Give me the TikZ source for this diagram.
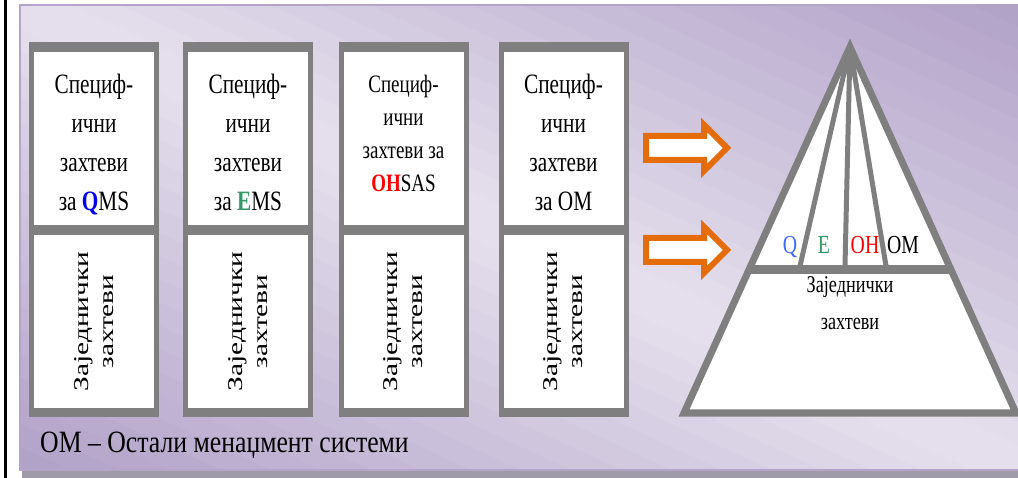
\documentclass[tikz,border=0pt]{standalone}
\usepackage{fontspec}
\setmainfont{Liberation Serif}
\newfontfamily\narrowfont[FakeStretch=0.76]{Liberation Serif}
\newfontfamily\legendfont[FakeStretch=0.83]{Liberation Serif}
\newfontfamily\widefont[FakeStretch=1.4]{Liberation Serif}
\usetikzlibrary{positioning,calc}
\definecolor{pdark}{HTML}{B0A0C7}
\definecolor{plight}{HTML}{E6E1EE}
\definecolor{pborder}{HTML}{B4A4CA}
\definecolor{shadowgray}{HTML}{A09BA8}
\definecolor{framegray}{HTML}{7F7F7F}
\definecolor{arrorange}{HTML}{E46C0A}
\definecolor{qblue}{HTML}{0000F0}
\definecolor{qlight}{HTML}{3D6BFF}
\definecolor{egreen}{HTML}{339966}
\definecolor{ohred}{HTML}{FF0000}

\begin{document}
\begin{tikzpicture}[x=1pt,y=-1pt]
            \tikzstyle{frame}=[fill=framegray, inner sep=0pt,
            minimum width=130pt, minimum height=375pt]
            \tikzstyle{spec}=[fill=white, inner sep=0pt,
            minimum width=120pt, minimum height=173pt]
            \tikzstyle{spectext}=[anchor=north, inner sep=0pt, align=center,
            font=\narrowfont\fontsize{28}{39}\selectfont]
            \tikzstyle{common}=[fill=white, inner sep=0pt, align=center, rotate=90,
            minimum width=173pt, minimum height=120pt,
            font=\widefont\fontsize{21}{25}\selectfont]
            \tikzstyle{blockarr}=[draw=arrorange, fill=white,
            line width=6pt, line join=miter]
            \tikzstyle{lbl}=[anchor=base, inner sep=0pt,
            font=\narrowfont\fontsize{26}{30}\selectfont]

            \useasboundingbox (0,0) rectangle (1018,478);
            \fill[shadowgray] (22,468) rectangle (1018,478);
            \begin{scope}
            \clip (20,5) rectangle (1022,470);
            \foreach \k in {0,...,39}{
              \pgfmathsetmacro{\ua}{\k/20}
              \pgfmathsetmacro{\ub}{(\k+1.3)/20}
              \pgfmathsetmacro{\mix}{100*abs((\k+0.5)/20-1)}
              \fill[pdark!\mix!plight] (-982,{5-465*\ua}) -- (2024,{5+465*(3-\ua)})
              -- (2024,{5+465*(3-\ub)}) -- (-982,{5-465*\ub}) -- cycle;
            }
            \end{scope}
            \draw[pborder, line width=2pt] (20,5) rectangle (1022,470);
            \draw[line width=3pt] (5,0) -- (5,478);

            \node[frame] (frQ) at (94,229.5) {};
            \node[frame] (frE) at (248,229.5) {};
            \node[frame] (frOH) at (403.5,229.5) {};
            \node[frame] (frOM) at (563.5,229.5) {};

            \node[spec] (spQ) at (94,138.5) {};
            \node[spec] (spE) at (248,138.5) {};
            \node[spec] (spOH) at (403.5,138.5) {};
            \node[spec] (spOM) at (563.5,138.5) {};

            \node[spectext] (txQ) at (94,74) {Специф-\\ични\\захтеви\\за {\color{qblue}\bfseries Q}MS};
            \node[spectext] (txE) at (248,74) {Специф-\\ични\\захтеви\\за {\color{egreen}\bfseries E}MS};
            \node[spectext, font=\narrowfont\fontsize{25}{33}\selectfont] (txOH) at (403.5,75)
            {Специф-\\ични\\захтеви за\\{\color{ohred}\bfseries OH}SAS};
            \node[spectext] (txOM) at (563.5,74) {Специф-\\ични\\захтеви\\за OM};

            \node[common] (cmQ) at (94,321.5) {Заједнички\\захтеви};
            \node[common] (cmE) at (248,321.5) {Заједнички\\захтеви};
            \node[common] (cmOH) at (403.5,321.5) {Заједнички\\захтеви};
            \node[common] (cmOM) at (563.5,321.5) {Заједнички\\захтеви};

            \coordinate (tipTop) at (727,148);
            \coordinate (tipBot) at (727,250);
            \draw[blockarr] (tipTop) -- ++(-23,-23) -- ++(0,11) -- ++(-58,0) -- ++(0,24)
            -- ++(58,0) -- ++(0,11) -- cycle;
            \draw[blockarr] (tipBot) -- ++(-23,-23) -- ++(0,11) -- ++(-58,0) -- ++(0,24)
            -- ++(58,0) -- ++(0,11) -- cycle;

            \coordinate (apex) at (850,47);
            \coordinate (baseL) at (684,413);
            \coordinate (baseR) at (1016,413);
            \filldraw[fill=white, draw=framegray, line width=7pt] (apex) -- (baseL) -- (baseR) -- cycle;
            \coordinate (divL) at ($(apex)!0.609!(baseL)$);
            \coordinate (divR) at ($(apex)!0.609!(baseR)$);
            \draw[framegray, line width=9pt] (divL) -- (divR);

            \coordinate (cutQ) at (800,266);
            \coordinate (cutE) at (845,266);
            \coordinate (cutOH) at (886,266);
            \draw[framegray, line width=5pt] (apex) -- (cutQ) (apex) -- (cutE) (apex) -- (cutOH);

            \node[lbl, text=qlight] (lQ) at (790,254) {Q};
            \node[lbl, text=egreen] (lE) at (824,254) {E};
            \node[lbl, text=ohred] (lOH) at (865,254) {OH};
            \node[lbl] (lOM) at (903,254) {OM};
            \node[anchor=north, inner sep=0pt, align=center,
            font=\narrowfont\fontsize{24}{37}\selectfont] (base) at (850,276) {Заједнички\\захтеви};

            \node[anchor=base west, inner sep=0pt,
            font=\legendfont\fontsize{31}{36}\selectfont] (legend) at (40,452) {ОМ – Остали менаџмент системи};
\end{tikzpicture}
\end{document}
